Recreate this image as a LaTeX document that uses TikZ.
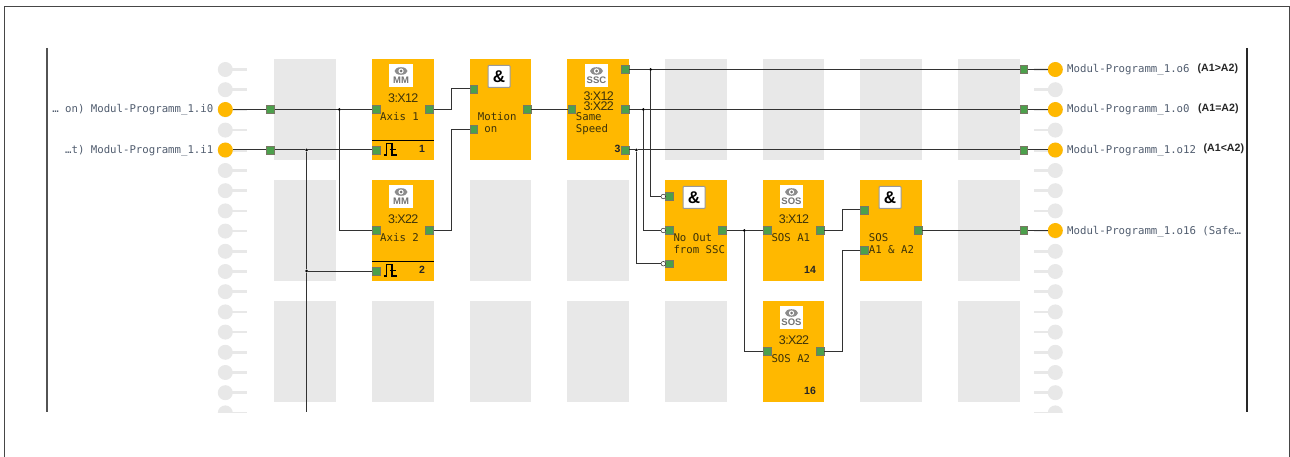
\documentclass[tikz,border=0pt]{standalone}
\usepackage{fontspec}
\setmainfont{Liberation Sans}
\newfontfamily\pinfont{DejaVu Sans Mono}
\usetikzlibrary{
  arrows.meta,
  positioning,
  calc
}
\definecolor{framecolor}{RGB}{70, 70, 70}
\definecolor{barcolor}{RGB}{40, 40, 40}
\definecolor{slotcolor}{RGB}{232, 232, 232}
\definecolor{blockcolor}{RGB}{255, 184, 0}
\definecolor{portcolor}{RGB}{76, 160, 76}
\definecolor{portedge}{RGB}{120, 120, 100}
\definecolor{wirecolor}{RGB}{50, 50, 50}
\definecolor{pincolor}{RGB}{80, 92, 110}
\definecolor{blocktextcolor}{RGB}{60, 50, 10}
\tikzset{
slot/.style={
  fill=slotcolor,
  minimum width=61.5pt,
  minimum height=101pt,
  inner sep=0pt
},
fblock/.style={
  slot,
  fill=blockcolor
},
port/.style={
  draw=portedge,
  fill=portcolor,
  line width=0.6pt,
  minimum size=7.8pt,
  inner sep=0pt
},
negate/.style={
  circle,
  draw=wirecolor,
  fill=white,
  line width=0.5pt,
  minimum size=4.6pt,
  inner sep=0pt
},
pin/.style={
  circle,
  fill=blockcolor,
  minimum size=15pt,
  inner sep=0pt
},
idlepin/.style={
  circle,
  fill=slotcolor,
  minimum size=15pt,
  inner sep=0pt
},
idlestub/.style={
  draw=slotcolor,
  line width=2.6pt
},
joint/.style={
  circle,
  fill=black,
  minimum size=3pt,
  inner sep=0pt
},
wire/.style={
  draw=wirecolor,
  line width=1pt
},
pinlabel/.style={
  font=\pinfont\fontsize{10.7}{12.2}\selectfont,
  text=pincolor,
  inner sep=0pt,
  text height=8pt,
  text depth=1pt
},
blocklabel/.style={
  font=\pinfont\fontsize{10.7}{12.2}\selectfont,
  text=blocktextcolor,
  align=left,
  inner sep=0pt,
  anchor=north west
},
notelabel/.style={
  font=\bfseries\fontsize{10.6}{11}\selectfont,
  text=black!85,
  inner sep=0pt,
  anchor=west
},
channel/.style={
  font=\addfontfeature{LetterSpace=-5}\fontsize{12.5}{10}\selectfont,
  text=blocktextcolor,
  inner sep=0pt
},
blocknum/.style={
  font=\bfseries\fontsize{10.5}{11}\selectfont,
  text=black!85,
  inner sep=0pt
},
andbox/.style={
  draw=black!40,
  fill=white,
  line width=1pt,
  rounded corners=0.8pt,
  minimum size=22pt,
  inner sep=0pt,
  font=\bfseries\fontsize{17}{17}\selectfont
},
eyeicon/.pic={
  \fill[white] (-11.7,-11.7) rectangle (11.7,11.7);
  \fill[black!45] (0,-4.5) ellipse (6.5pt and 3.8pt);
  \fill[white] (0,-4.5) circle (2.6pt);
  \fill[black!55] (0,-4.5) circle (1.5pt);
  \node[font=\bfseries\fontsize{9.5}{10}\selectfont, text=black!55, inner sep=0pt] (-icon) at (0,5.2) {#1};
},
pulseicon/.pic={
  \draw[black, line width=1.5pt] (-7,5.5) -- (-4,5.5) -- (-4,-6) -- (1.5,-6) -- (1.5,5.5) -- (6.5,5.5);
  \draw[black, line width=1.2pt] (-1,0) -- (5,0);
}
}
\begin{document}
\begin{tikzpicture}[x=1pt,y=-1pt]
\useasboundingbox (0,0) rectangle (1290,457);

\draw[framecolor, line width=1pt] (4.5,457) -- (4.5,6.5) -- (1289,6.5) -- (1289,457);
\draw[barcolor!80, line width=2pt] (47,48) -- (47,412);
\draw[barcolor, line width=2pt] (1247,48) -- (1247,412);

\foreach \i/\cx in {a/305,b/403,c/500.5,d/598,e/696,f/793.5,g/891,h/989}{
  \foreach \j/\cy in {1/109.5,2/230.5,3/351.5}{
    \node[slot] (slot\i\j) at (\cx,\cy) {};
  }
}

\begin{scope}
\clip (0,0) rectangle (1290,412);
\foreach \k in {0,...,17}{
  \node[idlepin] (idleleft\k) at (225.3,69.5+20.2*\k) {};
  \draw[idlestub] (idleleft\k.center) -- ++(22,0);
  \node[idlepin] (idleright\k) at (1055.3,69.5+20.2*\k) {};
  \draw[idlestub] (idleright\k.center) -- ++(-21.5,0);
}
\end{scope}

\node[fblock] (axisa) at (403,109.5) {};
\node[fblock] (axisb) at (403,230.5) {};
\node[fblock] (motion) at (500.5,109.5) {};
\node[fblock] (speed) at (598,109.5) {};
\node[fblock] (noout) at (696,230.5) {};
\node[fblock] (sosa) at (793.5,230.5) {};
\node[fblock] (sosb) at (793.5,351.5) {};
\node[fblock] (sosall) at (891,230.5) {};

\draw[black, line width=0.8pt] (372.2,140.5) -- (433.8,140.5);
\draw[black, line width=0.8pt] (372.2,261.5) -- (433.8,261.5);
\pic at (390.5,149.5) {pulseicon};
\pic at (390.5,270.5) {pulseicon};

\pic (iconaxisa) at (401,75.5) {eyeicon={MM}};
\pic (iconaxisb) at (401,196.5) {eyeicon={MM}};
\pic (iconspeed) at (596.5,75.5) {eyeicon={SSC}};
\pic (iconsosa) at (791.5,196.5) {eyeicon={SOS}};
\pic (iconsosb) at (791.5,317.5) {eyeicon={SOS}};
\node[andbox] (andmotion) at (499,76.5) {\&};
\node[andbox] (andnoout) at (694,197.5) {\&};
\node[andbox] (andsos) at (890,197.5) {\&};

\node[channel] (chaxisa) at (403.3,98.5) {3:X12};
\node[channel] (chaxisb) at (403.3,219.5) {3:X22};
\node[channel] (chspeeda) at (598.7,96) {3:X12};
\node[channel] (chspeedb) at (598.7,106) {3:X22};
\node[channel] (chsosa) at (794,219.5) {3:X12};
\node[channel] (chsosb) at (794,340.5) {3:X22};

\node[blocklabel] (txtaxisa) at (380,112) {Axis 1};
\node[blocklabel] (txtaxisb) at (380,233) {Axis 2};
\node[blocklabel] (txtmotion) at (477.7,112) {Motion\\~on};
\node[blocklabel] (txtspeed) at (575.7,112) {Same\\Speed};
\node[blocklabel] (txtnoout) at (673.3,233) {No Out\\from SSC};
\node[blocklabel] (txtsosa) at (771.3,233) {SOS A1};
\node[blocklabel] (txtsosb) at (771.3,354) {SOS A2};
\node[blocklabel] (txtsosall) at (868.7,233) {SOS\\A1 \& A2};

\node[blocknum] (numaxisa) at (422,148.7) {1};
\node[blocknum] (numaxisb) at (422,269.7) {2};
\node[blocknum] (numspeed) at (617.5,148.7) {3};
\node[blocknum] (numsosa) at (810,269.5) {14};
\node[blocknum] (numsosb) at (810,390.7) {16};

\node[pin] (ini) at (225.3,109.5) {};
\node[pin] (inj) at (225.3,150) {};
\node[pin] (outf) at (1055.3,69.5) {};
\node[pin] (outa) at (1055.3,109.5) {};
\node[pin] (outl) at (1055.3,150) {};
\node[pin] (outs) at (1055.3,230.5) {};

\node[pinlabel, anchor=east] (lblini) at (213.5,109.5) {… on) Modul-Programm\_1.i0};
\node[pinlabel, anchor=east] (lblinj) at (213.5,150) {…t) Modul-Programm\_1.i1};
\node[pinlabel, anchor=west] (lbloutf) at (1067,69.5) {Modul-Programm\_1.o6};
\node[pinlabel, anchor=west] (lblouta) at (1067,109.5) {Modul-Programm\_1.o0};
\node[pinlabel, anchor=west] (lbloutl) at (1067,150) {Modul-Programm\_1.o12};
\node[pinlabel, anchor=west] (lblouts) at (1067,230.5) {Modul-Programm\_1.o16 (Safe…};
\node[notelabel] (noteoutf) at (1197.5,69) {(A1>A2)};
\node[notelabel] (noteouta) at (1198,109) {(A1=A2)};
\node[notelabel] (noteoutl) at (1203.5,148.5) {(A1<A2)};

\node[port] (pini) at (270.3,109.5) {};
\node[port] (pinj) at (270.3,150) {};
\node[port] (axisaini) at (376,109.5) {};
\node[port] (axisainj) at (376,150) {};
\node[port] (axisaout) at (429.5,109.5) {};
\node[port] (axisbini) at (376,230.5) {};
\node[port] (axisbinj) at (376,271) {};
\node[port] (axisbout) at (429.5,230.5) {};
\node[port] (motionina) at (473.7,89) {};
\node[port] (motioninb) at (473.7,129.5) {};
\node[port] (motionout) at (527,109.5) {};
\node[port] (speedin) at (571.7,109.5) {};
\node[port] (speedouta) at (625,69.5) {};
\node[port] (speedoutb) at (625,109.5) {};
\node[port] (speedoutc) at (625,150) {};
\node[port] (noouta) at (669,196.5) {};
\node[port] (nooutb) at (669,230.5) {};
\node[port] (nooutc) at (669,263.7) {};
\node[port] (nooutout) at (722.5,230.5) {};
\node[port] (sosain) at (767,230.5) {};
\node[port] (sosaout) at (820,230.5) {};
\node[port] (sosbin) at (767,351.5) {};
\node[port] (sosbout) at (820,351.5) {};
\node[port] (sosallina) at (864.3,210) {};
\node[port] (sosallinb) at (864.3,250) {};
\node[port] (sosallout) at (918,230.5) {};
\node[port] (poutf) at (1023.7,69.5) {};
\node[port] (pouta) at (1023.7,109.5) {};
\node[port] (poutl) at (1023.7,150) {};
\node[port] (pouts) at (1023.7,230.5) {};

\node[negate] (nega) at (663.3,196.5) {};
\node[negate] (negb) at (663.3,230.5) {};
\node[negate] (negc) at (663.3,263.7) {};

\node[joint] (jointi) at (339.3,109.5) {};
\node[joint] (jointj) at (306.7,150) {};
\node[joint] (jointk) at (306.7,271) {};
\node[joint] (jointf) at (650.7,69.5) {};
\node[joint] (jointa) at (643.3,109.5) {};
\node[joint] (jointl) at (636.3,150) {};
\node[joint] (joints) at (744.3,230.5) {};
\coordinate (busend) at (306.7,412);
\coordinate (busmotiona) at (451.7,89);
\coordinate (busmotionb) at (451.7,129.5);
\coordinate (bussosa) at (842.3,210);
\coordinate (bussosb) at (842.3,250);

\draw[wire] (ini) -- (pini);
\draw[wire] (pini) -- (jointi);
\draw[wire] (jointi) -- (axisaini);
\draw[wire] (jointi) |- (axisbini);
\draw[wire] (inj) -- (pinj);
\draw[wire] (pinj) -- (jointj);
\draw[wire] (jointj) -- (axisainj);
\draw[wire] (jointj) -- (jointk);
\draw[wire] (jointk) -- (busend);
\draw[wire] (jointk) -- (axisbinj);
\draw[wire] (axisaout) -| (busmotiona) -- (motionina);
\draw[wire] (axisbout) -| (busmotionb) -- (motioninb);
\draw[wire] (motionout) -- (speedin);
\draw[wire] (speedouta) -- (jointf);
\draw[wire] (jointf) -- (poutf);
\draw[wire] (poutf) -- (outf);
\draw[wire] (speedoutb) -- (jointa);
\draw[wire] (jointa) -- (pouta);
\draw[wire] (pouta) -- (outa);
\draw[wire] (speedoutc) -- (jointl);
\draw[wire] (jointl) -- (poutl);
\draw[wire] (poutl) -- (outl);
\draw[wire] (jointf) |- (nega);
\draw[wire] (jointa) |- (negb);
\draw[wire] (jointl) |- (negc);
\draw[wire] (nooutout) -- (joints);
\draw[wire] (joints) -- (sosain);
\draw[wire] (joints) |- (sosbin);
\draw[wire] (sosaout) -| (bussosa) -- (sosallina);
\draw[wire] (sosbout) -| (bussosb) -- (sosallinb);
\draw[wire] (sosallout) -- (pouts);
\draw[wire] (pouts) -- (outs);
\end{tikzpicture}
\end{document}
